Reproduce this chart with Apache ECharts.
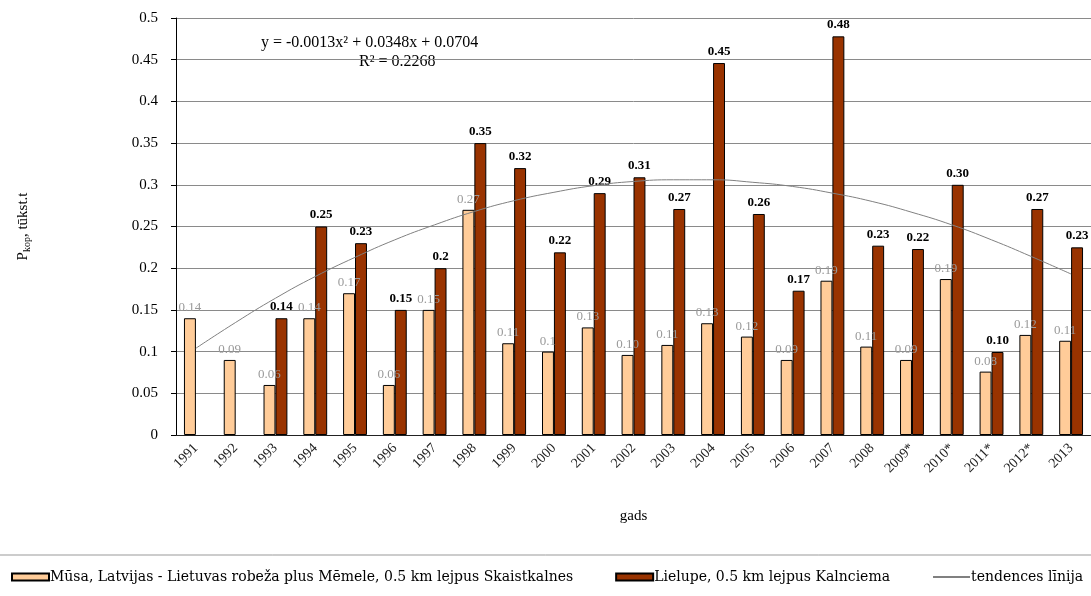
<!DOCTYPE html>
<html>
<head>
<meta charset="utf-8">
<script src="https://cdn.jsdelivr.net/npm/echarts@6/dist/echarts.min.js"></script>
<style>
html, body { margin: 0; padding: 0; background: #fff; }
#chart { width: 1091px; height: 596px; }
</style>
</head>
<body>
<div id="chart"></div>
<script>
// gadi
var years = ['1991','1992','1993','1994','1995','1996','1997','1998','1999','2000','2001','2002',
    '2003','2004','2005','2006','2007','2008','2009*','2010*','2011*','2012*','2013'];

// Mūsa
var musa = [0.14,0.09,0.06,0.14,0.17,0.06,0.15,0.27,0.11,0.10,0.129,0.096,
    0.108,0.134,0.118,0.090,0.185,0.106,0.090,0.187,0.076,0.12,0.113];
var musaLabels = ['0.14','0.09','0.06','0.14','0.17','0.06','0.15','0.27','0.11','0.1','0.13','0.10',
    '0.11','0.13','0.12','0.09','0.19','0.11','0.09','0.19','0.08','0.12','0.11'];

// Lielupe
var lielupe = [null,null,0.14,0.25,0.23,0.15,0.2,0.35,0.32,0.219,0.29,0.309,
    0.271,0.446,0.265,0.173,0.478,0.227,0.223,0.30,0.0995,0.271,0.225];
var lielupeLabels = ['','','0.14','0.25','0.23','0.15','0.2','0.35','0.32','0.22','0.29','0.31',
    '0.27','0.45','0.26','0.17','0.48','0.23','0.22','0.30','0.10','0.27','0.23'];

// tendences līnija (nolasīta no attēla)
var trend = [0.104,0.135,0.164,0.190,0.213,0.234,0.252,0.268,0.281,0.291,0.299,0.304,
    0.306,0.306,0.303,0.298,0.290,0.280,0.267,0.252,0.234,0.214,0.193];

var serif = '"Liberation Serif", "Times New Roman", serif';
var names = ['Mūsa, Latvijas - Lietuvas robeža plus Mēmele, 0.5 km lejpus Skaistkalnes',
    'Lielupe, 0.5 km lejpus Kalnciema', 'tendences līnija'];

var myChart = echarts.init(document.getElementById('chart'));

var option = {
    animation: false,
    textStyle: { fontFamily: serif },
    grid: { left: 176, right: 0, top: 18, bottom: 161 },
    legend: {
        left: 11,
        top: 570,
        padding: 0,
        itemWidth: 37,
        itemHeight: 7,
        itemGap: 42,
        data: [
            { name: names[0], icon: 'rect' },
            { name: names[1], icon: 'rect' },
            { name: names[2], itemStyle: { opacity: 0 } }
        ],
        textStyle: { fontFamily: '"DejaVu Serif", serif', fontSize: 14, color: '#000', padding: [0, 0, 0, -4] }
    },
    graphic: [
        {
            type: 'text', top: 35, left: 261,
            style: { text: 'y = -0.0013x² + 0.0348x + 0.0704', font: '16px ' + serif, fill: '#000' }
        },
        {
            type: 'text', top: 54, left: 359,
            style: { text: 'R² = 0.2268', font: '16px ' + serif, fill: '#000' }
        },
        {
            type: 'line',
            shape: { x1: 0, y1: 555, x2: 1091, y2: 555 },
            style: { stroke: '#999', lineWidth: 1 }
        }
    ],
    xAxis: {
        type: 'category',
        data: years,
        name: 'gads',
        nameLocation: 'middle',
        nameGap: 74,
        nameTextStyle: { fontSize: 15, color: '#000', fontFamily: serif },
        axisLine: { lineStyle: { color: '#222' } },
        axisTick: { length: 5, lineStyle: { color: '#222' } },
        axisLabel: { rotate: 45, fontSize: 14, color: '#222', fontFamily: serif, margin: 11, interval: 0 }
    },
    yAxis: {
        type: 'value',
        min: 0,
        max: 0.5,
        interval: 0.05,
        name: '{p|P}{s|kop}{p|, tūkst.t}',
        nameLocation: 'middle',
        nameGap: 144,
        nameRotate: 90,
        nameTextStyle: {
            rich: {
                p: { fontSize: 15, fontFamily: serif, color: '#000', lineHeight: 18 },
                s: { fontSize: 10, fontFamily: serif, color: '#000', verticalAlign: 'bottom', lineHeight: 14 }
            }
        },
        axisLine: { show: true, lineStyle: { color: '#000' } },
        axisTick: { show: true, length: 5, lineStyle: { color: '#000' } },
        axisLabel: { fontSize: 15, color: '#000', fontFamily: serif, margin: 18 },
        splitLine: { lineStyle: { color: '#8a8a8a', width: 1 } }
    },
    series: [
        {
            name: names[0],
            type: 'bar',
            data: musa,
            barGap: '0%',
            barCategoryGap: '40%',
            itemStyle: { color: '#FFCC99', borderColor: '#000', borderWidth: 1 },
            label: {
                show: true,
                position: 'top',
                distance: 4,
                fontSize: 13,
                fontFamily: serif,
                color: '#9a9a9a',
                formatter: function (p) { return musaLabels[p.dataIndex]; }
            }
        },
        {
            name: names[1],
            type: 'bar',
            data: lielupe,
            itemStyle: { color: '#993300', borderColor: '#000', borderWidth: 1 },
            label: {
                show: true,
                position: 'top',
                distance: 5,
                fontSize: 13,
                fontWeight: 'bold',
                fontFamily: serif,
                color: '#000',
                formatter: function (p) { return lielupeLabels[p.dataIndex]; }
            }
        },
        {
            name: names[2],
            type: 'line',
            data: trend,
            smooth: true,
            symbol: 'none',
            z: 5,
            lineStyle: { color: '#808080', width: 1 },
            itemStyle: { color: '#808080' }
        }
    ]
};

myChart.setOption(option);
</script>
</body>
</html>
